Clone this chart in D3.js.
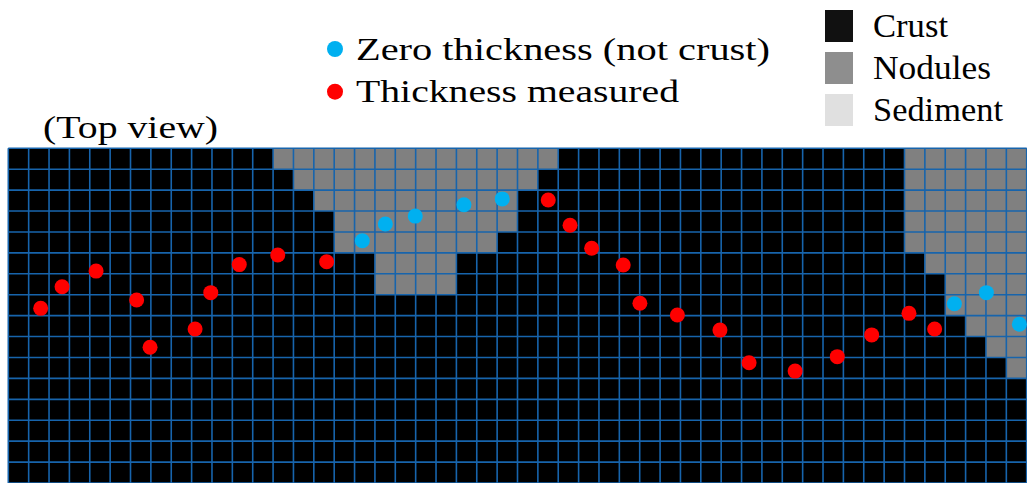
<!DOCTYPE html>
<html>
<head>
<meta charset="utf-8">
<script src="https://cdn.jsdelivr.net/npm/d3@7"></script>
<style>
  body { margin: 0; background: #fff; }
  svg { display: block; }
</style>
</head>
<body>
<svg width="1027" height="483"></svg>
<script>
const svg = d3.select('svg');
const FONT = '"Liberation Serif"';

// grid size (columns x rows, top view)
const N_COLS = 50;
const N_ROWS = 16;

// nodule cells per row: [row, firstCol, lastCol]
const noduleRuns = [
  [0, 13, 26], [0, 44, 49],
  [1, 14, 25], [1, 44, 49],
  [2, 15, 24], [2, 44, 49],
  [3, 16, 24], [3, 44, 49],
  [4, 16, 23], [4, 44, 49],
  [5, 18, 21], [5, 45, 49],
  [6, 18, 21], [6, 46, 49],
  [7, 46, 49],
  [8, 47, 49],
  [9, 48, 49],
  [10, 49, 49]
];

// sample points in grid units [col, row]
const measured = [
  [1.59, 7.65], [2.64, 6.62], [4.31, 5.87], [6.30, 7.25], [6.96, 9.51],
  [9.17, 8.64], [9.94, 6.90], [11.34, 5.56], [13.23, 5.10], [15.63, 5.42],
  [26.51, 2.47], [27.58, 3.68], [28.64, 4.78], [30.19, 5.58], [31.01, 7.41],
  [32.85, 7.97], [34.94, 8.69], [36.37, 10.25], [38.63, 10.65], [40.70, 9.96],
  [42.39, 8.92], [44.22, 7.89], [45.48, 8.64]
];
const zeroThickness = [
  [17.38, 4.42], [18.51, 3.62], [19.98, 3.24], [22.37, 2.70], [24.25, 2.42],
  [46.45, 7.43], [48.02, 6.90], [49.64, 8.41]
];

const classes = ['Crust', 'Nodules', 'Sediment'];
const classColors = ['#000000', '#808080', '#dcdcdc'];
const legendColors = ['#111111', '#8e8e8e', '#e0e0e0'];
const pointLabels = ['Zero thickness (not crust)', 'Thickness measured'];
const pointColors = ['#00b0f0', '#ff0000'];
const title = '(Top view)';

// scales
const x = d3.scaleLinear().domain([0, N_COLS]).range([8.3, 1026.7]);
const y = d3.scaleLinear().domain([0, N_ROWS]).range([148.3, 483]);
const fill = d3.scaleOrdinal().domain(classes).range(classColors);

// build cell table
const isNodule = (r, c) => noduleRuns.some(([rr, a, b]) => rr === r && c >= a && c <= b);
const cells = [];
for (let r = 0; r < N_ROWS; r++) {
  for (let c = 0; c < N_COLS; c++) {
    cells.push({ r, c, type: isNodule(r, c) ? 'Nodules' : 'Crust' });
  }
}

const grid = svg.append('g');

grid.selectAll('rect.cell')
  .data(cells)
  .enter()
  .append('rect')
  .attr('class', 'cell')
  .attr('x', d => x(d.c))
  .attr('y', d => y(d.r))
  .attr('width', x(1) - x(0) + 0.3)
  .attr('height', y(1) - y(0) + 0.3)
  .attr('fill', d => fill(d.type));

// grid lines
const LINE = '#1764ac';
grid.selectAll('line.v')
  .data(d3.range(N_COLS + 1))
  .enter()
  .append('line')
  .attr('x1', d => x(d)).attr('x2', d => x(d))
  .attr('y1', y(0)).attr('y2', y(N_ROWS))
  .attr('stroke', LINE)
  .attr('stroke-width', 1.6);

grid.selectAll('line.h')
  .data(d3.range(N_ROWS + 1))
  .enter()
  .append('line')
  .attr('x1', x(0)).attr('x2', x(N_COLS))
  .attr('y1', d => y(d)).attr('y2', d => y(d))
  .attr('stroke', LINE)
  .attr('stroke-width', 1.6);

// points
svg.append('g')
  .selectAll('circle')
  .data(measured)
  .enter()
  .append('circle')
  .attr('cx', d => x(d[0]))
  .attr('cy', d => y(d[1]))
  .attr('r', 7.5)
  .attr('fill', pointColors[1]);

svg.append('g')
  .selectAll('circle')
  .data(zeroThickness)
  .enter()
  .append('circle')
  .attr('cx', d => x(d[0]))
  .attr('cy', d => y(d[1]))
  .attr('r', 7.5)
  .attr('fill', pointColors[0]);

// title
svg.append('text')
  .attr('x', 43)
  .attr('y', 138)
  .attr('textLength', 175)
  .attr('lengthAdjust', 'spacingAndGlyphs')
  .style('font-family', FONT)
  .style('font-size', '32px')
  .style('fill', '#000')
  .text(title);

// point legend
const ptLegend = svg.append('g')
  .selectAll('g')
  .data(pointLabels)
  .enter()
  .append('g')
  .attr('transform', (d, i) => `translate(335, ${49 + i * 42.7})`);

ptLegend.append('circle')
  .attr('r', 8)
  .attr('fill', (d, i) => pointColors[i]);

ptLegend.append('text')
  .attr('x', 21)
  .attr('y', 10.5)
  .attr('textLength', (d, i) => [414, 323][i])
  .attr('lengthAdjust', 'spacingAndGlyphs')
  .style('font-family', FONT)
  .style('font-size', '32px')
  .style('fill', '#000')
  .text(d => d);

// class legend
const clLegend = svg.append('g')
  .selectAll('g')
  .data(classes)
  .enter()
  .append('g')
  .attr('transform', (d, i) => `translate(825, ${10 + i * 42})`);

clLegend.append('rect')
  .attr('width', 28)
  .attr('height', 32)
  .attr('fill', (d, i) => legendColors[i]);

clLegend.append('text')
  .attr('x', 48)
  .attr('y', 27)
  .attr('textLength', (d, i) => [75, 118, 130][i])
  .attr('lengthAdjust', 'spacingAndGlyphs')
  .style('font-family', FONT)
  .style('font-size', '34px')
  .style('fill', '#000')
  .text(d => d);
</script>
</body>
</html>
